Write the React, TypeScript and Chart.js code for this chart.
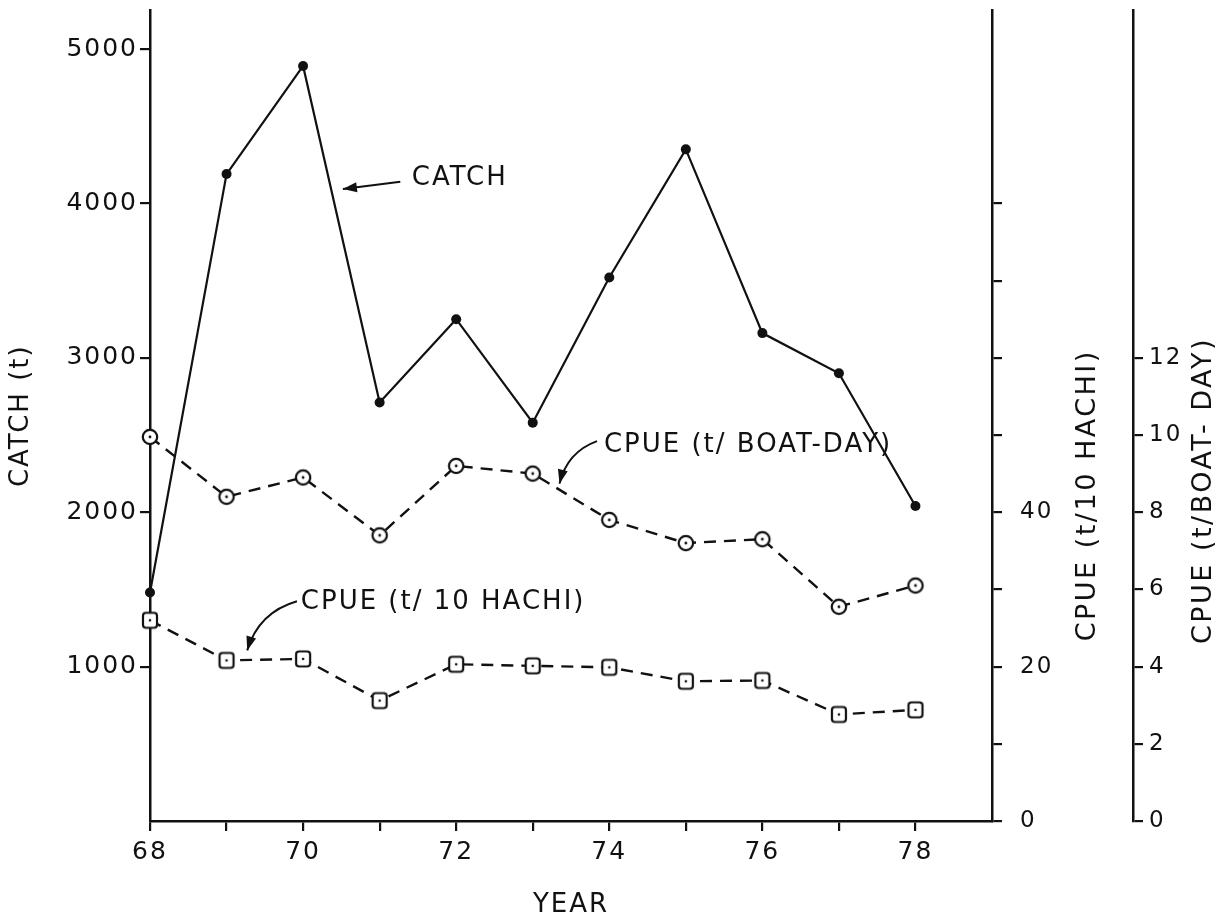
import React, { useEffect, useRef } from 'react';
import { Chart, registerables } from 'chart.js';

Chart.register(...registerables);

// ---- data ----
const years = [68, 69, 70, 71, 72, 73, 74, 75, 76, 77, 78];
const catchTonnes = [1480, 4190, 4890, 2710, 3250, 2580, 3520, 4350, 3160, 2900, 2040];
const cpueBoatDay = [9.95, 8.4, 8.9, 7.4, 9.2, 9.0, 7.8, 7.2, 7.3, 5.55, 6.1];
const cpueHachi = [26.0, 20.8, 21.0, 15.6, 20.3, 20.1, 19.9, 18.1, 18.2, 13.8, 14.4];

// ---- axis ticks ----
const yearTicks = [68, 69, 70, 71, 72, 73, 74, 75, 76, 77, 78];
const yearLabelled = [68, 70, 72, 74, 76, 78];
const catchTicks = [1000, 2000, 3000, 4000, 5000];
const hachiTicks = [0, 10, 20, 30, 40, 50, 60, 70, 80];
const hachiLabelled = [0, 20, 40];
const boatTicks = [0, 2, 4, 6, 8, 10, 12];

const INK = '#111';
const FAMILY = '"DejaVu Sans", sans-serif';

function makeCircleMarker() {
  const c = document.createElement('canvas');
  c.width = 20;
  c.height = 20;
  const g = c.getContext('2d')!;
  g.beginPath();
  g.arc(10, 10, 7.2, 0, Math.PI * 2);
  g.fillStyle = '#fff';
  g.fill();
  g.lineWidth = 2.2;
  g.strokeStyle = INK;
  g.stroke();
  g.beginPath();
  g.arc(10, 10, 1.4, 0, Math.PI * 2);
  g.fillStyle = INK;
  g.fill();
  return c;
}

function makeSquareMarker() {
  const c = document.createElement('canvas');
  c.width = 20;
  c.height = 20;
  const g = c.getContext('2d')!;
  g.beginPath();
  (g as any).roundRect(3, 2.5, 14, 15, 3);
  g.fillStyle = '#fff';
  g.fill();
  g.lineWidth = 2.2;
  g.strokeStyle = INK;
  g.stroke();
  g.beginPath();
  g.arc(10, 10, 1.3, 0, Math.PI * 2);
  g.fillStyle = INK;
  g.fill();
  return c;
}

function arrowHead(ctx: CanvasRenderingContext2D, fx: number, fy: number, tx: number, ty: number) {
  const a = Math.atan2(ty - fy, tx - fx);
  const len = 14;
  const hw = 5;
  ctx.beginPath();
  ctx.moveTo(tx, ty);
  ctx.lineTo(tx - len * Math.cos(a) + hw * Math.sin(a), ty - len * Math.sin(a) - hw * Math.cos(a));
  ctx.lineTo(tx - len * Math.cos(a) - hw * Math.sin(a), ty - len * Math.sin(a) + hw * Math.cos(a));
  ctx.closePath();
  ctx.fill();
}

function rotatedText(ctx: CanvasRenderingContext2D, text: string, cx: number, cy: number) {
  ctx.save();
  ctx.translate(cx, cy);
  ctx.rotate(-Math.PI / 2);
  ctx.textAlign = 'center';
  ctx.textBaseline = 'middle';
  ctx.fillText(text, 0, 0);
  ctx.restore();
}

const annotations = {
  id: 'annotations',
  beforeDraw(chart: any) {
    chart.ctx.letterSpacing = '2px';
  },
  afterDraw(chart: any) {
    const { ctx, scales } = chart;
    const x = scales.x;
    const y = scales.y;
    const px = (v: number) => x.getPixelForValue(v);
    const py = (v: number) => y.getPixelForValue(v);
    ctx.save();
    ctx.fillStyle = INK;
    ctx.strokeStyle = INK;
    ctx.lineWidth = 2;
    ctx.letterSpacing = '2px';
    ctx.font = `26px ${FAMILY}`;
    ctx.textAlign = 'left';
    ctx.textBaseline = 'middle';

    // CATCH label + straight arrow
    ctx.fillText('CATCH', px(71.42), py(4160));
    {
      const fx = px(71.27), fy = py(4140), tx = px(70.52), ty = py(4094);
      ctx.beginPath();
      ctx.moveTo(fx, fy);
      ctx.lineTo(tx, ty);
      ctx.stroke();
      arrowHead(ctx, fx, fy, tx, ty);
    }

    // CPUE (t/ BOAT-DAY) label + curved arrow
    ctx.fillText('CPUE (t/ BOAT-DAY)', px(73.93), py(2432));
    {
      const sx = px(73.84), sy = py(2460);
      const cx = px(73.45), cy = py(2390);
      const ex = px(73.35), ey = py(2185);
      ctx.beginPath();
      ctx.moveTo(sx, sy);
      ctx.quadraticCurveTo(cx, cy, ex, ey);
      ctx.stroke();
      arrowHead(ctx, cx, cy, ex, ey);
    }

    // CPUE (t/ 10 HACHI) label + curved arrow
    ctx.fillText('CPUE (t/ 10 HACHI)', px(69.97), py(1417));
    {
      const sx = px(69.92), sy = py(1423);
      const cx = px(69.42), cy = py(1352);
      const ex = px(69.27), ey = py(1105);
      ctx.beginPath();
      ctx.moveTo(sx, sy);
      ctx.quadraticCurveTo(cx, cy, ex, ey);
      ctx.stroke();
      arrowHead(ctx, cx, cy, ex, ey);
    }

    // right-hand axis titles (read bottom to top)
    ctx.font = `27px ${FAMILY}`;
    ctx.letterSpacing = '2.5px';
    rotatedText(ctx, 'CPUE (t/10 HACHI)', scales.y2.left + 96, py(2110));
    rotatedText(ctx, 'CPUE (t/BOAT- DAY)', scales.y3.left + 71, py(2140));
    ctx.restore();
  },
};

export default function App() {
  const canvasRef = useRef<HTMLCanvasElement | null>(null);

  useEffect(() => {
    document.body.style.margin = '0';
    document.body.style.overflow = 'hidden';
    const canvas = canvasRef.current;
    if (!canvas) return;

    const circle = makeCircleMarker();
    const square = makeSquareMarker();

    const tickFont = { family: FAMILY, size: 25 };
    const rightTickFont = { family: FAMILY, size: 23 };
    const gridCommon = {
      display: true,
      drawOnChartArea: false,
      drawTicks: true,
      tickLength: 10,
      color: INK,
      lineWidth: 2.2,
    };
    const borderCommon = { display: true, color: INK, width: 2.5 };

    const chart = new Chart(canvas, {
      type: 'line',
      data: {
        datasets: [
          {
            label: 'CATCH',
            data: years.map((yr, i) => ({ x: yr, y: catchTonnes[i] })),
            yAxisID: 'y',
            borderColor: INK,
            borderWidth: 2.2,
            pointRadius: 5,
            pointBackgroundColor: INK,
            pointBorderColor: INK,
            pointBorderWidth: 0,
            tension: 0,
            clip: false as any,
          },
          {
            label: 'CPUE (t/ BOAT-DAY)',
            data: years.map((yr, i) => ({ x: yr, y: cpueBoatDay[i] })),
            yAxisID: 'y3',
            borderColor: INK,
            borderWidth: 2.4,
            borderDash: [12, 8],
            pointStyle: circle as any,
            pointRadius: 8,
            tension: 0,
            clip: false as any,
          },
          {
            label: 'CPUE (t/ 10 HACHI)',
            data: years.map((yr, i) => ({ x: yr, y: cpueHachi[i] })),
            yAxisID: 'y2',
            borderColor: INK,
            borderWidth: 2.4,
            borderDash: [12, 8],
            pointStyle: square as any,
            pointRadius: 8,
            tension: 0,
            clip: false as any,
          },
        ],
      },
      options: {
        animation: false,
        responsive: true,
        maintainAspectRatio: false,
        layout: { padding: { top: 10, left: 0, right: 0, bottom: 0 } },
        plugins: {
          legend: { display: false },
          tooltip: { enabled: false },
        },
        scales: {
          x: {
            type: 'linear',
            position: 'bottom',
            min: 68,
            max: 79,
            afterBuildTicks: (s: any) => {
              s.ticks = yearTicks.map((v) => ({ value: v }));
            },
            ticks: {
              autoSkip: false,
              maxRotation: 0,
              padding: 6,
              color: INK,
              font: tickFont,
              callback: (v: any) => (yearLabelled.includes(Number(v)) ? String(v) : ''),
            },
            grid: gridCommon,
            border: borderCommon,
            title: {
              display: true,
              text: 'YEAR',
              color: INK,
              font: { family: FAMILY, size: 26, lineHeight: 1 },
              padding: 0,
            },
            afterFit: (s: any) => {
              s.height = 97;
              s.paddingLeft = 0;
              s.paddingRight = 0;
            },
          },
          y: {
            type: 'linear',
            position: 'left',
            min: 0,
            max: 5250,
            afterBuildTicks: (s: any) => {
              s.ticks = catchTicks.map((v) => ({ value: v }));
            },
            ticks: {
              padding: 2,
              color: INK,
              font: tickFont,
              callback: (v: any) => String(v),
            },
            grid: gridCommon,
            border: borderCommon,
            title: {
              display: true,
              text: 'CATCH (t)',
              color: INK,
              font: { family: FAMILY, size: 26 },
              padding: { top: 6, bottom: 0 },
            },
            afterFit: (s: any) => {
              s.width = 150;
              s.paddingTop = 0;
              s.paddingBottom = 0;
            },
          },
          y2: {
            type: 'linear',
            position: 'right',
            min: 0,
            max: 105,
            afterBuildTicks: (s: any) => {
              s.ticks = hachiTicks.map((v) => ({ value: v }));
            },
            ticks: {
              padding: 18,
              color: INK,
              font: rightTickFont,
              callback: (v: any) => (hachiLabelled.includes(Number(v)) ? String(v) : ''),
            },
            grid: gridCommon,
            border: borderCommon,
            afterFit: (s: any) => {
              s.width = 141;
              s.paddingTop = 0;
              s.paddingBottom = 0;
            },
          },
          y3: {
            type: 'linear',
            position: 'right',
            min: 0,
            max: 21,
            afterBuildTicks: (s: any) => {
              s.ticks = boatTicks.map((v) => ({ value: v }));
            },
            ticks: {
              padding: 6,
              color: INK,
              font: rightTickFont,
              callback: (v: any) => String(v),
            },
            grid: gridCommon,
            border: borderCommon,
            afterFit: (s: any) => {
              s.width = 97;
              s.paddingTop = 0;
              s.paddingBottom = 0;
            },
          },
        },
      } as any,
      plugins: [annotations as any],
    });

    return () => {
      chart.destroy();
    };
  }, []);

  return (
    <div style={{ position: 'relative', width: 1230, height: 918 }}>
      <canvas ref={canvasRef} />
    </div>
  );
}
